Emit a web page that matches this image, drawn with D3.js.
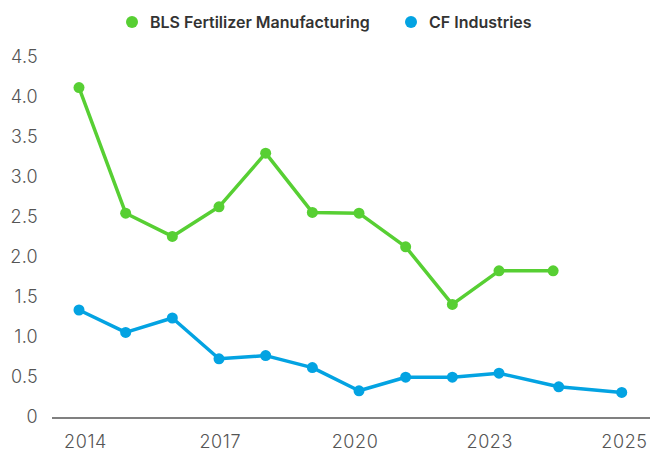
<!DOCTYPE html>
<html>
<head>
<meta charset="utf-8">
<script src="https://cdn.jsdelivr.net/npm/d3@7"></script>
<style>
	html, body { margin: 0; padding: 0; background: #fff; }
	svg { display: block; font-family: Inter, "Noto Sans", sans-serif; }
</style>
</head>
<body>
<svg id="chart" width="650" height="459"></svg>
<script>
// Values (x in fractional years)
const blsYears = [2014, 2015, 2016, 2017, 2018, 2019, 2020, 2021, 2022, 2023, 2024.16]
const blsValues = [4.13, 2.56, 2.27, 2.64, 3.31, 2.57, 2.56, 2.14, 1.42, 1.84, 1.84]

const cfYears = [2014, 2015, 2016, 2017, 2018, 2019, 2020, 2021, 2022, 2023, 2024.28, 2025.63]
const cfValues = [1.35, 1.07, 1.25, 0.74, 0.78, 0.63, 0.34, 0.51, 0.51, 0.56, 0.39, 0.32]

const xTickLabels = ['2014', '2017', '2020', '2023', '2025']
const yTicks = [0, 0.5, 1, 1.5, 2, 2.5, 3, 3.5, 4, 4.5]

const seriesNames = ['BLS Fertilizer Manufacturing', 'CF Industries']
const seriesColors = ['#57cf33', '#03a3e2']

;(function() {
	let svg = d3.select('#chart')
	let margin = { top: 58, right: 0, bottom: 41, left: 52 },
		width = 650, height = 459

	let x = d3.scaleLinear()
		.domain([2014, 2023])
		.range([79, 499])

	let y = d3.scaleLinear()
		.domain([0, 4.5])
		.range([height - margin.bottom, margin.top])

	// Y axis labels (no line, no ticks)
	let yAxis = svg.append('g')
		.attr('transform', `translate(${margin.left - 14}, -1)`)
		.call(d3.axisLeft(y).tickValues(yTicks).tickSize(0).tickPadding(0)
			.tickFormat(d => d === 0 ? '0' : d3.format('.1f')(d)))
	yAxis.select('.domain').remove()
	yAxis.selectAll('text')
		.attr('font-family', 'Inter, sans-serif')
		.attr('font-size', 18)
		.attr('font-weight', 300)
		.attr('letter-spacing', '0.3px')
		.attr('fill', '#555')

	// Baseline
	svg.append('line')
		.attr('x1', margin.left).attr('x2', width)
		.attr('y1', y(0)).attr('y2', y(0))
		.attr('stroke', '#808080')
		.attr('stroke-width', 2)

	// X axis labels, placed evenly
	let xLabels = d3.scalePoint()
		.domain(xTickLabels)
		.range([85, 624])
	let xAxis = svg.append('g')
		.attr('transform', `translate(0, ${height - 17})`)
		.call(d3.axisBottom(xLabels).tickSize(0).tickPadding(0))
	xAxis.select('.domain').remove()
	xAxis.selectAll('text')
		.attr('dy', '0.32em')
		.attr('font-family', 'Inter, sans-serif')
		.attr('font-size', 18)
		.attr('font-weight', 300)
		.attr('letter-spacing', '0.6px')
		.attr('fill', '#555')

	let series = [
		{ years: blsYears, values: blsValues, color: seriesColors[0] },
		{ years: cfYears, values: cfValues, color: seriesColors[1] }
	]

	series.forEach(s => {
		let pts = s.years.map((yr, i) => [yr, s.values[i]])
		svg.append('path')
			.datum(pts)
			.attr('fill', 'none')
			.attr('stroke', s.color)
			.attr('stroke-width', 3.5)
			.attr('stroke-linejoin', 'round')
			.attr('d', d3.line().x(d => x(d[0])).y(d => y(d[1])))
		svg.append('g').selectAll('circle')
			.data(pts)
			.join('circle')
			.attr('cx', d => x(d[0]))
			.attr('cy', d => y(d[1]))
			.attr('r', 5.5)
			.attr('fill', s.color)
	})

	// Legend
	let legendX = [132, 411]
	seriesNames.forEach((name, i) => {
		let g = svg.append('g')
		g.append('circle')
			.attr('cx', legendX[i]).attr('cy', 22)
			.attr('r', 6)
			.attr('fill', seriesColors[i])
		g.append('text')
			.attr('x', legendX[i] + 18).attr('y', 22)
			.attr('dy', '0.35em')
			.attr('font-family', 'Inter, sans-serif')
			.attr('font-size', 16)
			.attr('font-weight', 600)
			.attr('fill', '#333')
			.text(name)
	})
})();
</script>
</body>
</html>
